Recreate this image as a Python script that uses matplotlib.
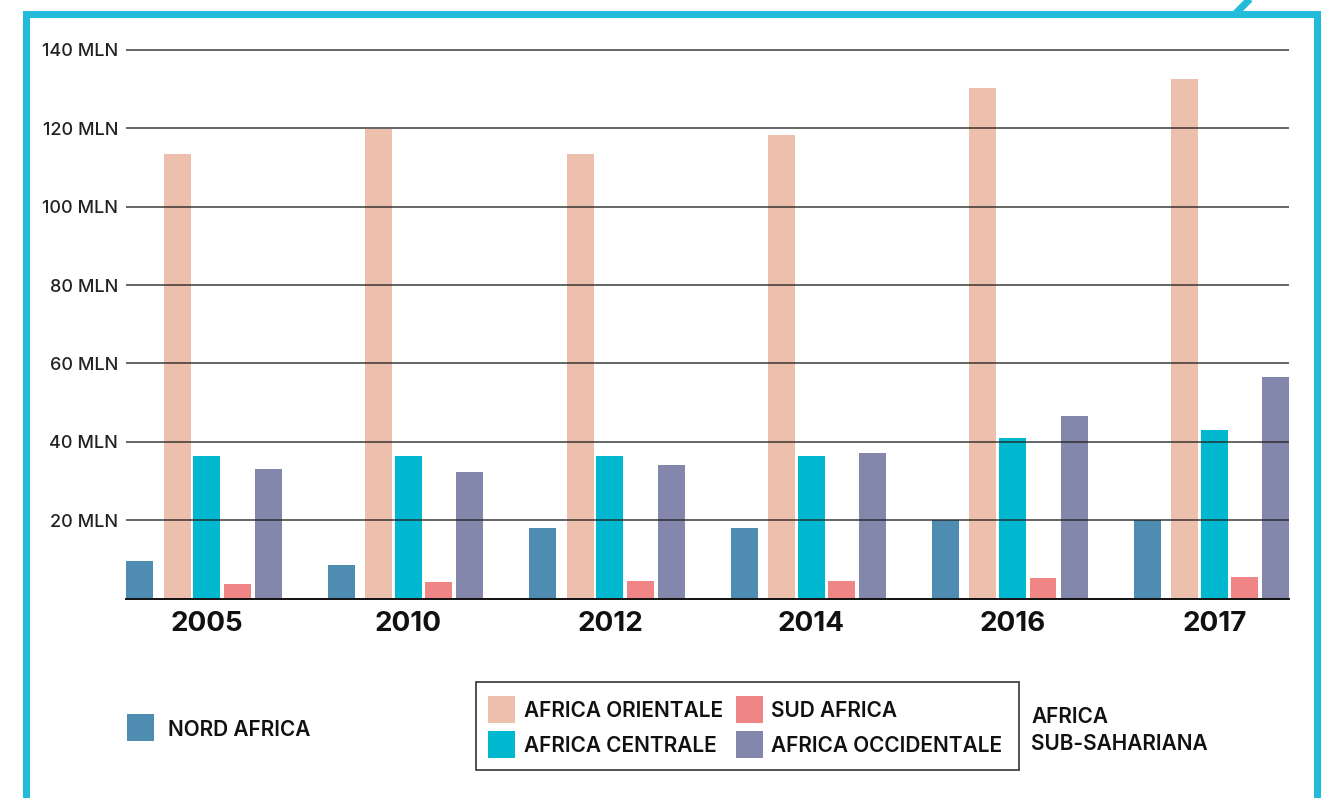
import matplotlib
matplotlib.use("Agg")
import matplotlib.pyplot as plt
from matplotlib.patches import Rectangle
from matplotlib.lines import Line2D
import numpy as np

plt.rcParams['font.family'] = ['Inter', 'DejaVu Sans']

years = ["2005", "2010", "2012", "2014", "2016", "2017"]
nord_africa = [9.6, 8.6, 18.1, 18.1, 20.0, 20.0]
africa_orientale = [113.5, 119.8, 113.5, 118.2, 130.2, 132.5]
africa_centrale = [36.3, 36.3, 36.3, 36.3, 40.9, 42.9]
sud_africa = [3.7, 4.2, 4.5, 4.5, 5.3, 5.5]
africa_occidentale = [33.0, 32.2, 34.0, 37.1, 46.5, 56.5]

series_names = ["NORD AFRICA", "AFRICA ORIENTALE", "AFRICA CENTRALE",
                "SUD AFRICA", "AFRICA OCCIDENTALE"]
series_values = [nord_africa, africa_orientale, africa_centrale,
                 sud_africa, africa_occidentale]
colors = ["#4E8DB1", "#EDBFAD", "#00B9D0", "#F08585", "#8487AC"]

y_ticks = [20, 40, 60, 80, 100, 120, 140]
y_tick_labels = [f"{v} MLN" for v in y_ticks]

W, H = 1326, 798
fig = plt.figure(figsize=(W / 100, H / 100), dpi=100)


def fx(px):
    return px / W


def fy(py):
    return 1 - py / H


# axes placement (pixel geometry)
ymax = 140.6
ax_left, ax_right, ax_bottom = 126.5, 1289.0, 598.5
px_per_unit = 548.5 / 140
ax_top = ax_bottom - ymax * px_per_unit
ax = fig.add_axes([fx(ax_left), fy(ax_bottom), (ax_right - ax_left) / W,
                   (ax_bottom - ax_top) / H])

# bar layout within each group (in group-spacing units)
bar_w = 0.134
offsets = [0.0, 0.184, 0.3325, 0.482, 0.636]
x = np.arange(len(years))
for vals, off, col in zip(series_values, offsets, colors):
    ax.bar(x + off, vals, width=bar_w, align="edge", color=col,
           edgecolor="none", zorder=1)

ax.set_xlim(0, len(years) - 1 + offsets[-1] + bar_w)
ax.set_ylim(0, ymax)

ax.set_xticks(x + offsets[2] + bar_w / 2)
ax.set_xticklabels(years, fontsize=20, fontweight="bold", color="#111111")
ax.set_yticks(y_ticks)
ax.set_yticklabels(y_tick_labels, fontsize=13, fontweight="medium",
                   color="#222222")
ax.tick_params(axis="both", length=0)
ax.tick_params(axis="y", pad=6)
ax.tick_params(axis="x", pad=9)

ax.set_axisbelow(False)
ax.yaxis.grid(True, color="#222222", alpha=0.75, linewidth=1.3)
ax.xaxis.grid(False)
for s in ["top", "left", "right"]:
    ax.spines[s].set_visible(False)
ax.spines["bottom"].set_color("#111111")
ax.spines["bottom"].set_linewidth(1.4)
ax.spines["bottom"].set_zorder(3)

# frame in cyan around the figure
lw_frame = 7 * 72 / 100
cyan = "#22BBD9"
fig.add_artist(Line2D([fx(26.5), fx(26.5), fx(1316.5), fx(1316.5)],
                      [fy(820), fy(13.5), fy(13.5), fy(820)],
                      color=cyan, linewidth=lw_frame, solid_joinstyle="miter",
                      transform=fig.transFigure))
fig.add_artist(Line2D([fx(1235), fx(1262)], [fy(14), fy(-13)],
                      color=cyan, linewidth=lw_frame, solid_capstyle="butt",
                      transform=fig.transFigure))

# legend entries
legend_fs = 15


def legend_entry(px, py, color, label, gap):
    fig.add_artist(Rectangle((fx(px), fy(py + 13.5)), 27 / W, 27 / H,
                             facecolor=color, edgecolor="none",
                             transform=fig.transFigure))
    fig.text(fx(px + 27 + gap), fy(py + 2), label, fontsize=legend_fs,
             fontweight="semibold", color="#111111", va="center", ha="left")


legend_entry(127, 727.5, colors[0], series_names[0], 14)

# boxed legend for sub-Saharan regions
fig.add_artist(Rectangle((fx(476), fy(770)), (1019 - 476) / W, (770 - 682) / H,
                         facecolor="none", edgecolor="#333333", linewidth=1.2,
                         transform=fig.transFigure))
legend_entry(488, 709, colors[1], series_names[1], 9)
legend_entry(736, 709, colors[3], series_names[3], 8)
legend_entry(488, 744.5, colors[2], series_names[2], 9)
legend_entry(736, 744.5, colors[4], series_names[4], 8)

fig.text(fx(1031), fy(717), "AFRICA", fontsize=legend_fs,
         fontweight="semibold", color="#111111", va="center", ha="left")
fig.text(fx(1031), fy(744), "SUB-SAHARIANA", fontsize=legend_fs,
         fontweight="semibold", color="#111111", va="center", ha="left")

fig.savefig("out.png", dpi=100, facecolor="white")
